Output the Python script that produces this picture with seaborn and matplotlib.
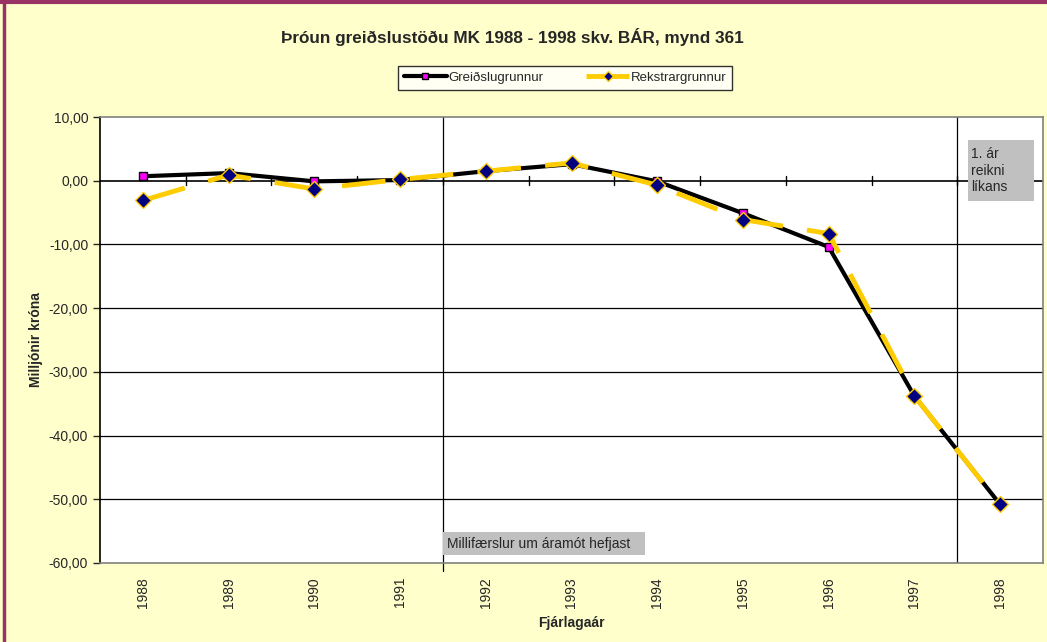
import matplotlib
matplotlib.use("Agg")
import matplotlib.pyplot as plt
import seaborn as sns
import pandas as pd
from matplotlib.ticker import FuncFormatter, FixedLocator
from matplotlib.patches import Rectangle

years = ["1988", "1989", "1990", "1991", "1992", "1993", "1994", "1995", "1996", "1997", "1998"]
greidslu = [0.7, 1.2, -0.1, 0.1, 1.5, 2.6, -0.1, -5.1, -10.4, -33.8, -50.8]
rekstrar = [-3.1, 0.9, -1.3, 0.2, 1.5, 2.8, -0.7, -6.1, -8.3, -33.8, -50.8]
series_names = ["Greiðslugrunnur", "Rekstrargrunnur"]
y_ticks = [10, 0, -10, -20, -30, -40, -50, -60]

sns.set_style("white")
plt.rcParams["font.family"] = ["Liberation Sans", "DejaVu Sans"]

bg = "#FFFFCC"
fig = plt.figure(figsize=(10.47, 6.42), dpi=100, facecolor=bg)
ax = fig.add_axes([100 / 1047, 1 - 563 / 642, 943 / 1047, 446 / 642])
ax.set_facecolor("white")

pos = list(range(len(years)))
df = pd.DataFrame({
    "pos": pos * 2,
    "value": greidslu + rekstrar,
    "series": [series_names[0]] * len(years) + [series_names[1]] * len(years),
})

sns.lineplot(data=df[df.series == series_names[0]], x="pos", y="value", ax=ax,
             color="black", lw=3, marker="s", markersize=6,
             markerfacecolor="#FF00FF", markeredgecolor="black", markeredgewidth=1,
             label=series_names[0], zorder=4)
sns.lineplot(data=df[df.series == series_names[1]], x="pos", y="value", ax=ax,
             color="#FFCC00", lw=3.5, marker="D", markersize=8,
             markerfacecolor="#000080", markeredgecolor="#FFCC00", markeredgewidth=1,
             label=series_names[1], zorder=5)
ax.lines[1].set_dashes([9, 5])

ax.set_xlim(-0.5, len(years) - 0.5)
ax.set_ylim(-60, 10)

# gridlines
for v in y_ticks:
    if v not in (10, -60, 0):
        ax.axhline(v, color="#000000", lw=0.9, zorder=1)
ax.axhline(0, color="black", lw=1.2, zorder=2)
for xv in (3.5, 9.5):
    ax.axvline(xv, color="black", lw=0.9, zorder=1)

# category ticks on the zero line
for b in range(1, len(years)):
    ax.plot([b - 0.5, b - 0.5], [-0.7, 0.7], color="black", lw=1, zorder=2)

ax.yaxis.set_major_locator(FixedLocator(y_ticks))
ax.yaxis.set_major_formatter(FuncFormatter(lambda v, p: f"{v:.2f}".replace(".", ",")))
ax.set_xticks(pos)
ax.set_xticklabels(years, rotation=90, fontsize=10)
ax.tick_params(axis="y", length=5, width=1, direction="out", labelsize=10, left=True)
ax.tick_params(axis="x", length=0, pad=10)

for s in ax.spines.values():
    s.set_color("#808080")
    s.set_linewidth(1.2)
ax.spines["left"].set_color("black")

ax.set_xlabel("Fjárlagaár", fontsize=10, fontweight="bold", labelpad=6)
ax.set_ylabel("Milljónir króna", fontsize=10, fontweight="bold", labelpad=4)

# vertical line extends below the plot
ax.plot([3.5, 3.5], [-60, -61.3], color="black", lw=0.9, clip_on=False)

# annotation boxes
ax.add_patch(Rectangle((3.5, -58.8), 2.36, 3.6, facecolor="#C0C0C0", edgecolor="none", zorder=6))
ax.text(3.55, -57.0, "Millifærslur um áramót hefjast", fontsize=10,
        va="center", ha="left", zorder=7)
ax.add_patch(Rectangle((9.62, -3.2), 0.77, 9.6, facecolor="#C0C0C0", edgecolor="none", zorder=6))
ax.text(9.66, 1.6, "1. ár\nreikni\nlíkans", fontsize=10, va="center", ha="left",
        linespacing=1.25, zorder=7)

fig.text(512 / 1047, 1 - 37 / 642, "Þróun greiðslustöðu MK 1988 - 1998 skv. BÁR, mynd 361",
         ha="center", va="center", fontsize=12.3, fontweight="bold")

leg = ax.legend(loc="center", bbox_to_anchor=(565 / 1047, 1 - 78 / 642),
                bbox_transform=fig.transFigure, ncol=2, frameon=True, fancybox=False,
                fontsize=9.5, handlelength=3.3, columnspacing=3.2, markerscale=0.7,
                borderpad=0.45, handletextpad=0.1)
leg.get_frame().set_edgecolor("black")
leg.get_frame().set_linewidth(1)

# figure border
fig.add_artist(plt.Line2D([0, 1], [1 - 2 / 642, 1 - 2 / 642], color="#993366", lw=3,
                          transform=fig.transFigure))
fig.add_artist(plt.Line2D([4 / 1047, 4 / 1047], [0, 1], color="#993366", lw=2.5,
                          transform=fig.transFigure))

fig.savefig("out.png", dpi=100, facecolor=bg)
